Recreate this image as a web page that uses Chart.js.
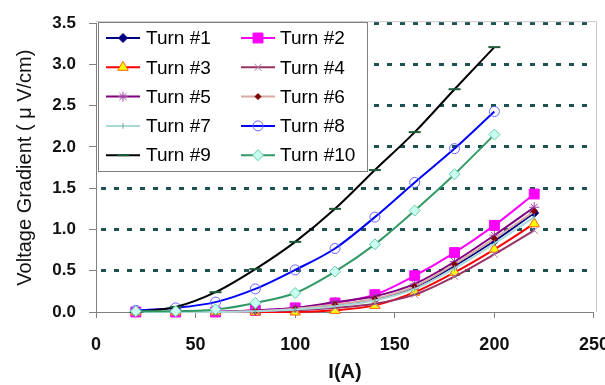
<!DOCTYPE html>
<html>
<head>
<meta charset="utf-8">
<script src="https://cdn.jsdelivr.net/npm/chart.js"></script>
<style>
  html, body { margin: 0; padding: 0; background: #ffffff; overflow: hidden; }
  #wrap { width: 625px; height: 385px; }
</style>
</head>
<body>
<div id="wrap"><canvas id="c" width="625" height="385"></canvas></div>
<script>
// ---- data ----
const currents = [20, 40, 60, 80, 100, 120, 140, 160, 180, 200, 220];
const seriesNames = ["Turn #1", "Turn #2", "Turn #3", "Turn #4", "Turn #5",
                     "Turn #6", "Turn #7", "Turn #8", "Turn #9", "Turn #10"];
const turn1  = [0.00, 0.00, 0.00, 0.01, 0.03, 0.08, 0.15, 0.30, 0.56, 0.86, 1.20];
const turn2  = [0.00, 0.00, 0.00, 0.02, 0.05, 0.11, 0.21, 0.44, 0.72, 1.05, 1.43];
const turn3  = [0.00, 0.00, 0.00, 0.00, 0.00, 0.02, 0.08, 0.24, 0.48, 0.76, 1.07];
const turn4  = [0.00, 0.00, 0.00, 0.01, 0.02, 0.05, 0.10, 0.21, 0.43, 0.70, 0.99];
const turn5  = [0.00, 0.00, 0.00, 0.02, 0.05, 0.12, 0.19, 0.34, 0.61, 0.93, 1.27];
const turn6  = [0.00, 0.00, 0.00, 0.01, 0.04, 0.09, 0.16, 0.31, 0.58, 0.89, 1.22];
const turn7  = [0.00, 0.00, 0.00, 0.01, 0.03, 0.07, 0.14, 0.28, 0.53, 0.83, 1.15];
const turn8  = [0.02, 0.05, 0.12, 0.28, 0.51, 0.77, 1.15, 1.57, 1.98, 2.43];
const turn9  = [0.00, 0.06, 0.24, 0.52, 0.85, 1.25, 1.72, 2.18, 2.70, 3.21];
const turn10 = [0.01, 0.01, 0.03, 0.11, 0.23, 0.49, 0.82, 1.23, 1.67, 2.15];
const xTicks = [0, 50, 100, 150, 200, 250];
const yTicks = [0.0, 0.5, 1.0, 1.5, 2.0, 2.5, 3.0, 3.5];

const allSeries = [turn1, turn2, turn3, turn4, turn5, turn6, turn7, turn8, turn9, turn10];

// ---- styles ----
const styles = [
  { line: '#000080', w: 2, ps: 'rectRot',  r: 4.5, fill: '#000080', stroke: '#000080', bw: 1 },
  { line: '#ff00ff', w: 2, ps: 'rect',     r: 7,   fill: '#ff00ff', stroke: '#ff00ff', bw: 1 },
  { line: '#ff0000', w: 2, ps: 'triangle', r: 6,   fill: '#ffff00', stroke: '#ff6600', bw: 1 },
  { line: '#993366', w: 2, ps: 'crossRot', r: 5,   fill: '#b080b0', stroke: '#b080b0', bw: 1 },
  { line: '#800080', w: 2, ps: 'star',     r: 5,   fill: '#a040a0', stroke: '#a040a0', bw: 1 },
  { line: '#d8aaa4', w: 2, ps: 'rectRot',  r: 3,   fill: '#800000', stroke: '#800000', bw: 1 },
  { line: '#a8d8d8', w: 2, ps: 'line',     r: 3,   fill: '#66aaaa', stroke: '#66aaaa', bw: 1, rot: 90 },
  { line: '#0000ff', w: 2, ps: 'circle',   r: 5,   fill: 'rgba(0,0,0,0)', stroke: '#6666ff', bw: 1 },
  { line: '#000000', w: 2, ps: 'line',     r: 6,   fill: '#1e5a3c', stroke: '#1e5a3c', bw: 2 },
  { line: '#339966', w: 2, ps: 'rectRot',  r: 5.5, fill: '#c8fff0', stroke: '#66ccaa', bw: 1 }
];

const datasets = allSeries.map((vals, i) => {
  const s = styles[i];
  return {
    label: seriesNames[i],
    data: vals.map((v, k) => ({ x: currents[k], y: v })),
    borderColor: s.line,
    borderWidth: s.w,
    backgroundColor: s.fill,
    pointStyle: s.ps,
    pointRadius: s.r,
    pointRotation: s.rot || 0,
    pointBackgroundColor: s.fill,
    pointBorderColor: s.stroke,
    pointBorderWidth: s.bw,
    pointHoverRadius: s.r,
    cubicInterpolationMode: 'monotone',
    clip: false,
    order: 10 - i
  };
});

// plot-area border (top & right, light grey)
const frame = {
  id: 'frame',
  beforeDatasetsDraw(chart) {
    const { ctx, chartArea: a } = chart;
    ctx.save();
    ctx.strokeStyle = '#c8c8c8';
    ctx.lineWidth = 1;
    ctx.beginPath();
    ctx.moveTo(a.left, a.top - 1.5);
    ctx.lineTo(a.right + 2.5, a.top - 1.5);
    ctx.lineTo(a.right + 2.5, a.bottom);
    ctx.stroke();
    ctx.restore();
  }
};

// legend box inside the plot area
const boxLegend = {
  id: 'boxLegend',
  afterDatasetsDraw(chart) {
    const ctx = chart.ctx;
    const bx = 98, by = 22, bw = 269, bh = 149;
    ctx.save();
    ctx.fillStyle = '#ffffff';
    ctx.fillRect(bx, by, bw, bh);
    ctx.strokeStyle = '#808080';
    ctx.lineWidth = 1;
    ctx.strokeRect(bx + 0.5, by + 0.5, bw, bh);
    ctx.font = '19px "Liberation Sans", Arial, sans-serif';
    ctx.textBaseline = 'middle';
    ctx.textAlign = 'left';
    chart.data.datasets.forEach((ds, i) => {
      const col = i % 2, row = Math.floor(i / 2);
      const y = 38 + row * 29.3;
      const x0 = col ? 241 : 106;
      const x1 = x0 + 34;
      ctx.strokeStyle = ds.borderColor;
      ctx.lineWidth = ds.borderWidth;
      ctx.beginPath();
      ctx.moveTo(x0, y);
      ctx.lineTo(x1, y);
      ctx.stroke();
      ctx.fillStyle = ds.pointBackgroundColor;
      ctx.strokeStyle = ds.pointBorderColor;
      ctx.lineWidth = ds.pointBorderWidth;
      if (Chart.helpers && Chart.helpers.drawPoint) {
        Chart.helpers.drawPoint(ctx, {
          pointStyle: ds.pointStyle, rotation: ds.pointRotation,
          radius: ds.pointRadius, borderWidth: ds.pointBorderWidth
        }, (x0 + x1) / 2, y);
      }
      ctx.fillStyle = '#000000';
      ctx.fillText(ds.label, col ? 280 : 146, y + 1);
    });
    ctx.restore();
  }
};

new Chart(document.getElementById('c'), {
  type: 'line',
  data: { datasets },
  options: {
    responsive: false,
    animation: false,
    events: [],
    layout: { padding: { left: 0, top: 17, right: 31, bottom: 0 } },
    plugins: { legend: { display: false }, tooltip: { enabled: false } },
    scales: {
      x: {
        type: 'linear',
        min: 0, max: 250,
        afterBuildTicks(scale) { scale.ticks = xTicks.map(v => ({ value: v })); },
        afterFit(scale) { scale.height = 73; },
        ticks: {
          color: '#111111',
          font: { family: '"Liberation Sans", Arial, sans-serif', size: 18, weight: 'bold' },
          padding: 16,
          maxRotation: 0,
          autoSkip: false
        },
        grid: {
          drawOnChartArea: false,
          tickLength: 6,
          tickColor: '#808080',
          tickWidth: 1
        },
        border: { display: true, color: '#808080', width: 1 },
        title: {
          display: true,
          text: 'I(A)',
          color: '#111111',
          font: { family: '"Liberation Sans", Arial, sans-serif', size: 20, weight: 'bold' },
          padding: { top: 0, bottom: 1 }
        }
      },
      y: {
        type: 'linear',
        min: 0, max: 3.5,
        afterBuildTicks(scale) { scale.ticks = yTicks.map(v => ({ value: v })); },
        afterFit(scale) { scale.width = 96; },
        ticks: {
          color: '#111111',
          font: { family: '"Liberation Sans", Arial, sans-serif', size: 17, weight: 'bold' },
          padding: 13,
          callback: v => Number(v).toFixed(1)
        },
        grid: {
          color: ctx => (ctx.tick && ctx.tick.value === 0) ? 'rgba(0,0,0,0)' : '#1d5252',
          lineWidth: 3,
          tickLength: 7,
          tickColor: '#808080',
          tickWidth: 1,
          tickBorderDash: []
        },
        border: { display: true, color: '#808080', width: 1, dash: [5, 8], dashOffset: -4 },
        title: {
          display: true,
          text: 'Voltage Gradient ( μ V/cm)',
          color: '#111111',
          font: { family: '"Liberation Sans", Arial, sans-serif', size: 20, weight: 'normal' },
          padding: { top: 13, bottom: 0 }
        }
      }
    }
  },
  plugins: [frame, boxLegend]
});
</script>
</body>
</html>
